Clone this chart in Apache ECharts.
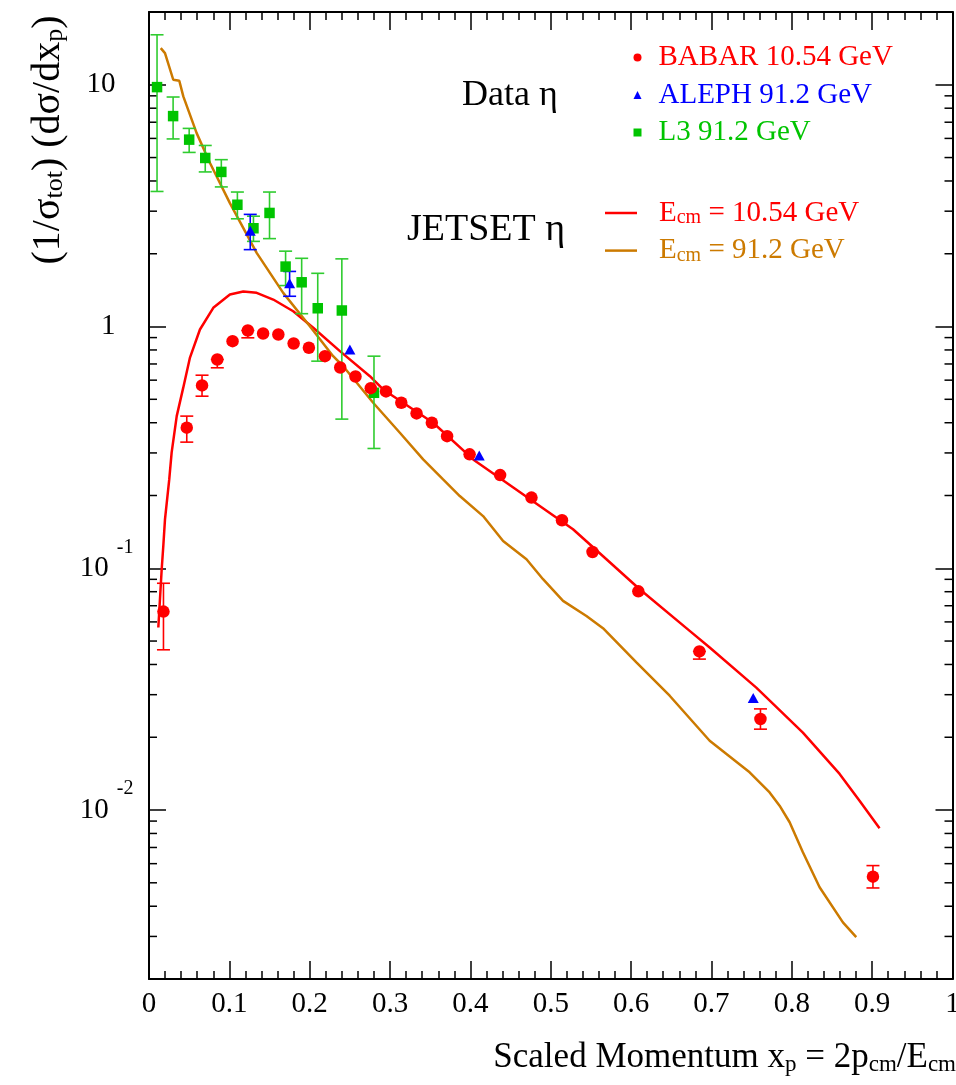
<!DOCTYPE html>
<html><head><meta charset="utf-8">
<script src="https://cdn.jsdelivr.net/npm/echarts@6/dist/echarts.min.js"></script>
<style>html,body{margin:0;padding:0;background:#fff}#c{width:956px;height:1085px}</style>
</head><body><div id="c"></div>
<script>
// ---------- data ----------
const babarX  = [0.018,0.047,0.066,0.085,0.104,0.123,0.142,0.161,0.180,0.199,0.219,0.238,0.257,0.276,0.295,0.314,0.333,0.352,0.371,0.399,0.437,0.476,0.514,0.552,0.609,0.685,0.761,0.901];
const babarY  = [0.0662,0.3815,0.5705,0.7306,0.870,0.963,0.936,0.927,0.851,0.817,0.754,0.677,0.621,0.556,0.539,0.484,0.437,0.400,0.352,0.296,0.243,0.196,0.158,0.1168,0.0803,0.0453,0.0238,0.0053];
const babarLo = [0.046,0.3325,0.515,0.675,null,0.898,null,null,null,null,null,null,null,null,null,null,null,null,null,null,null,null,null,null,null,0.0421,0.0216,0.00476];
const babarHi = [0.0867,0.426,0.629,null,null,null,null,null,null,null,null,null,null,null,null,null,null,null,null,null,null,null,null,null,null,null,0.0262,0.00589];

const alephX  = [0.126,0.175,0.250,0.411,0.752];
const alephY  = [2.49,1.51,0.803,0.293,0.0291];
const alephLo = [2.08,1.334,null,null,null];
const alephHi = [2.91,1.69,null,null,null];

const l3X  = [0.01,0.03,0.05,0.07,0.09,0.11,0.13,0.15,0.17,0.19,0.21,0.24,0.28];
const l3Y  = [9.78,7.42,5.93,4.98,4.36,3.19,2.55,2.95,1.77,1.524,1.19,1.165,0.532];
const l3Lo = [3.62,5.97,5.25,4.36,3.78,2.79,2.25,2.31,1.477,1.13,0.719,0.414,0.313];
const l3Hi = [16.1,8.90,6.60,5.61,4.90,3.60,2.86,3.60,2.05,1.915,1.66,1.905,0.754];

const jet1054X = [0.0116,0.0158,0.0178,0.0199,0.0252,0.0282,0.0345,0.0427,0.051,0.0634,0.080,0.1007,0.1173,0.134,0.1546,0.1795,0.2044,0.2376,0.2749,0.2914,0.3536,0.4034,0.4449,0.4863,0.5277,0.5693,0.6107,0.6729,0.6978,0.7558,0.8138,0.8595,0.8843,0.9092];
const jet1054Y = [0.0569,0.0991,0.1236,0.1594,0.233,0.3015,0.426,0.560,0.744,0.972,1.195,1.356,1.395,1.378,1.293,1.157,0.988,0.791,0.623,0.549,0.400,0.282,0.226,0.181,0.145,0.109,0.0819,0.0551,0.0470,0.0321,0.0209,0.0141,0.01093,0.0084];

const jet912X = [0.0146,0.0199,0.0302,0.0377,0.0427,0.0593,0.0759,0.1007,0.134,0.167,0.2002,0.2292,0.2417,0.279,0.3122,0.3412,0.366,0.3868,0.4158,0.4407,0.4698,0.4904,0.5153,0.5444,0.565,0.6066,0.648,0.6978,0.7475,0.7724,0.7848,0.7973,0.8138,0.8346,0.8636,0.8802];
const jet912Y = [14.18,13.52,10.49,10.39,8.95,6.31,4.75,3.24,2.016,1.378,1.003,0.754,0.685,0.484,0.3637,0.282,0.233,0.199,0.1644,0.1297,0.1089,0.0901,0.0733,0.0635,0.0565,0.0408,0.0297,0.01934,0.01432,0.01183,0.01042,0.0089,0.00669,0.00479,0.00343,0.00298];

const xTickLabels = ['0','0.1','0.2','0.3','0.4','0.5','0.6','0.7','0.8','0.9','1'];
const yMinorTicks = [0.003,0.004,0.005,0.006,0.007,0.008,0.009,
  0.02,0.03,0.04,0.05,0.06,0.07,0.08,0.09,
  0.2,0.3,0.4,0.5,0.6,0.7,0.8,0.9,
  2,3,4,5,6,7,8,9];

// ---------- helpers ----------
const FONT = 'Liberation Serif';
const RED = '#ff0000', BLUE = '#0000ff', GREEN = '#00c400', GREEN_ERR = '#2fcc2f', ORANGE = '#cc7a00';
const zip = (a, b) => a.map((v, i) => [v, b[i]]);
function errData(xs, ys, lo, hi) {
  const out = [];
  xs.forEach((x, i) => { if (lo[i] != null || hi[i] != null) out.push([x, lo[i] != null ? lo[i] : ys[i], hi[i] != null ? hi[i] : ys[i]]); });
  return out;
}
function errSeries(name, data, color) {
  return {
    type: 'custom', name: name + ' err', silent: true, z: 3,
    data: data, encode: { x: 0, y: [1, 2] },
    renderItem: (params, api) => {
      const x = api.value(0);
      const a = api.coord([x, api.value(1)]), b = api.coord([x, api.value(2)]);
      const w = 6.5, st = { stroke: color, lineWidth: 1.6 };
      return { type: 'group', children: [
        { type: 'line', shape: { x1: a[0], y1: a[1], x2: b[0], y2: b[1] }, style: st },
        { type: 'line', shape: { x1: a[0] - w, y1: a[1], x2: a[0] + w, y2: a[1] }, style: st },
        { type: 'line', shape: { x1: b[0] - w, y1: b[1], x2: b[0] + w, y2: b[1] }, style: st }
      ]};
    }
  };
}
const axisLineStyle = { color: '#000', width: 2 };
const tickStyle = { color: '#000', width: 1.5 };

const chart = echarts.init(document.getElementById('c'), null, { renderer: 'canvas' });
chart.setOption({
  animation: false,
  backgroundColor: '#fff',
  grid: { left: 149, right: 3.5, top: 12, bottom: 106, outerBoundsMode: 'none', containLabel: false },
  xAxis: [{
    type: 'value', min: 0, max: 1, interval: 0.1, position: 'bottom',
    axisLine: { onZero: false, lineStyle: axisLineStyle },
    axisTick: { inside: true, length: 18, lineStyle: tickStyle },
    minorTick: { show: true, splitNumber: 5, length: 8, lineStyle: tickStyle },
    splitLine: { show: false }, minorSplitLine: { show: false },
    axisLabel: { margin: 11, fontFamily: FONT, fontSize: 29, color: '#000',
      formatter: v => xTickLabels[Math.round(v * 10)] }
  }, {
    type: 'value', min: 0, max: 1, interval: 0.1, position: 'top',
    axisLine: { onZero: false, lineStyle: axisLineStyle },
    axisTick: { inside: true, length: 18, lineStyle: tickStyle },
    minorTick: { show: true, splitNumber: 5, length: 8, lineStyle: tickStyle },
    splitLine: { show: false }, axisLabel: { show: false }
  }],
  yAxis: [{
    type: 'log', logBase: 10, min: 0.002, max: 20, position: 'left',
    axisLine: { onZero: false, lineStyle: axisLineStyle },
    axisTick: { inside: true, length: 17, lineStyle: tickStyle },
    splitLine: { show: false },
    axisLabel: {
      margin: 15.5, color: '#000', fontFamily: FONT,
      showMinLabel: false, showMaxLabel: false,
      formatter: v => {
        const l = Math.log10(v), e = Math.round(l);
        if (Math.abs(l - e) > 1e-6) return '';
        if (e === 1) return '{b|10}{gap|}';
        if (e === 0) return '{b|1}{gap|}';
        return '{b|10}{sup|' + e + '}';
      },
      rich: {
        b: { fontFamily: FONT, fontSize: 29, color: '#000', lineHeight: 62 },
        sup: { fontFamily: FONT, fontSize: 20, color: '#000', lineHeight: 20, verticalAlign: 'top', padding: [0, 0, 0, 8] },
        gap: { width: 18 }
      }
    }
  }, {
    type: 'log', logBase: 10, min: 0.002, max: 20, position: 'right',
    axisLine: { onZero: false, lineStyle: axisLineStyle },
    axisTick: { inside: true, length: 17, lineStyle: tickStyle },
    splitLine: { show: false }, axisLabel: { show: false }
  }],
  legend: [{
    orient: 'vertical', left: 633.5, top: 42.5, itemWidth: 8, itemHeight: 8, itemGap: 7.5, padding: 0,
    selectedMode: false,
    textStyle: { fontFamily: FONT, fontSize: 29, lineHeight: 30, padding: [0, 0, 0, 12] },
    data: [
      { name: 'BABAR 10.54 GeV', icon: 'circle', textStyle: { color: RED } },
      { name: 'ALEPH 91.2 GeV', icon: 'triangle', textStyle: { color: BLUE } },
      { name: 'L3 91.2 GeV', icon: 'rect', textStyle: { color: GREEN } }
    ]
  }, {
    orient: 'vertical', left: 605, top: 182, itemWidth: 32, itemHeight: 2.5, itemGap: -8.4, padding: 0,
    selectedMode: false,
    textStyle: { fontFamily: FONT, fontSize: 29, padding: [0, 0, 0, 17] },
    formatter: name => name === 'E_cm = 10.54 GeV'
      ? '{r|E}{rs|cm}{r| = 10.54 GeV}' : '{o|E}{os|cm}{o| = 91.2 GeV}',
    data: [
      { name: 'E_cm = 10.54 GeV', icon: 'rect', textStyle: { color: RED,
        rich: { r: { color: RED, fontFamily: FONT, fontSize: 29, lineHeight: 30 },
                rs: { color: RED, fontFamily: FONT, fontSize: 20, lineHeight: 20, verticalAlign: 'bottom', padding: [26, 0, 0, 0] } } } },
      { name: 'E_cm = 91.2 GeV', icon: 'rect', textStyle: { color: ORANGE,
        rich: { o: { color: ORANGE, fontFamily: FONT, fontSize: 29, lineHeight: 30 },
                os: { color: ORANGE, fontFamily: FONT, fontSize: 20, lineHeight: 20, verticalAlign: 'bottom', padding: [26, 0, 0, 0] } } } }
    ]
  }],
  graphic: [
    { type: 'text', x: 462, y: 96, silent: true,
      style: { text: 'Data η', fontFamily: FONT, fontSize: 36, fill: '#000', align: 'left', verticalAlign: 'middle' } },
    { type: 'text', x: 407, y: 230, silent: true,
      style: { text: 'JETSET η', fontFamily: FONT, fontSize: 38, fill: '#000', align: 'left', verticalAlign: 'middle' } },
    { type: 'text', x: 48, y: 140, rotation: Math.PI / 2, silent: true,
      style: { text: '{m|(1/σ}{s|tot}{m|) (dσ/dx}{s|p}{m|)}', align: 'center', verticalAlign: 'middle',
        rich: { m: { fontFamily: FONT, fontSize: 40, color: '#000', lineHeight: 40 },
                s: { fontFamily: FONT, fontSize: 26, color: '#000', lineHeight: 26, verticalAlign: 'bottom', padding: [22, 0, 0, 0] } } } },
    { type: 'text', x: 956, y: 1058, silent: true,
      style: { text: '{m|Scaled Momentum x}{s|p}{m| = 2p}{s|cm}{m|/E}{s|cm}', align: 'right', verticalAlign: 'middle',
        rich: { m: { fontFamily: FONT, fontSize: 35, color: '#000', lineHeight: 36 },
                s: { fontFamily: FONT, fontSize: 23, color: '#000', lineHeight: 23, verticalAlign: 'bottom', padding: [24, 0, 0, 0] } } } }
  ],
  series: [
    { type: 'custom', name: 'yMinor', silent: true, z: 1, clip: false,
      data: yMinorTicks.map(v => [0, v]), encode: { x: 0, y: 1 },
      renderItem: (params, api) => {
        const v = api.value(1);
        const p = api.coord([0, v]), q = api.coord([1, v]);
        const st = { stroke: '#000', lineWidth: 1.5 };
        return { type: 'group', children: [
          { type: 'line', shape: { x1: p[0], y1: p[1], x2: p[0] + 8, y2: p[1] }, style: st },
          { type: 'line', shape: { x1: q[0] - 8, y1: q[1], x2: q[0], y2: q[1] }, style: st }
        ]};
      }
    },
    { type: 'line', name: 'E_cm = 10.54 GeV', data: zip(jet1054X, jet1054Y), showSymbol: false, symbol: 'none',
      color: RED, lineStyle: { color: RED, width: 2.5 }, z: 2 },
    { type: 'line', name: 'E_cm = 91.2 GeV', data: zip(jet912X, jet912Y), showSymbol: false, symbol: 'none',
      color: ORANGE, lineStyle: { color: ORANGE, width: 2.5 }, z: 2 },
    errSeries('L3', errData(l3X, l3Y, l3Lo, l3Hi), GREEN_ERR),
    errSeries('ALEPH', errData(alephX, alephY, alephLo, alephHi), BLUE),
    errSeries('BABAR', errData(babarX, babarY, babarLo, babarHi), RED),
    { type: 'scatter', name: 'L3 91.2 GeV', data: zip(l3X, l3Y), symbol: 'rect', symbolSize: 10.5,
      itemStyle: { color: GREEN, opacity: 1 }, z: 4 },
    { type: 'scatter', name: 'ALEPH 91.2 GeV', data: zip(alephX, alephY), symbol: 'triangle', symbolSize: [11, 10],
      itemStyle: { color: BLUE, opacity: 1 }, z: 4 },
    { type: 'scatter', name: 'BABAR 10.54 GeV', data: zip(babarX, babarY), symbol: 'circle', symbolSize: 12.5,
      itemStyle: { color: RED, opacity: 1 }, z: 4 }
  ]
});
</script></body></html>
